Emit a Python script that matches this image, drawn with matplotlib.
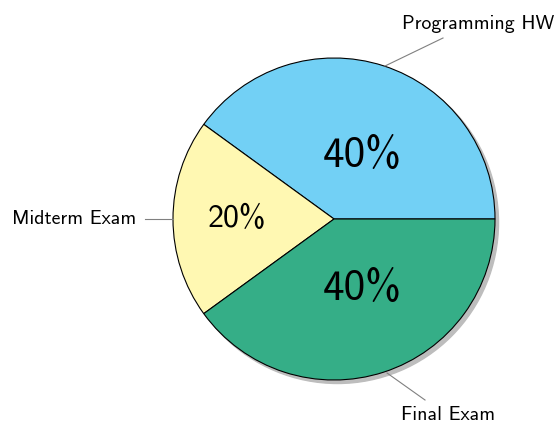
import matplotlib
matplotlib.use('Agg')
import matplotlib.pyplot as plt
from matplotlib.patches import Circle

labels = ['Programming HW', 'Midterm Exam', 'Final Exam']
values = [40, 20, 40]
colors = ['#72D0F5', '#FFF8B2', '#35AE87']

plt.rcParams['font.family'] = ['cmss10', 'DejaVu Sans']

fig = plt.figure(figsize=(5.58, 4.23), dpi=100)
ax = fig.add_axes([0, 0, 1, 1])

cx, cy, r = 334, 204, 161

# shadow
ax.add_patch(Circle((cx + 3.5, cy - 3.5), r, color='#BDBDBD', zorder=0))

wedges, _ = ax.pie(values, colors=colors, startangle=0, counterclock=True,
                   center=(cx, cy), radius=r,
                   wedgeprops=dict(edgecolor='black', linewidth=0.8))
for w in wedges:
    w.set_zorder(1)

# percentage labels (size scaled with value)
pct_pos = [(cx + 28, cy + 63), (cx - 97, cy + 1), (cx + 28, cy - 70)]
for v, (x, y) in zip(values, pct_pos):
    ax.text(x, y, f'{v}%', ha='center', va='center',
            fontsize=15 + v * 0.4, zorder=3)

# outside labels with leader lines
leaders = [((385, 357), (443, 385)), ((173, 204), (145, 204)), ((387, 50), (425, 23))]
text_pos = [(402, 399, 'left'), (136, 204, 'right'), (401, 8, 'left')]
for lab, (p0, p1), (tx, ty, ha) in zip(labels, leaders, text_pos):
    ax.plot([p0[0], p1[0]], [p0[1], p1[1]], color='#808080', lw=0.8, zorder=2)
    ax.text(tx, ty, lab, ha=ha, va='center', fontsize=14.3, zorder=3)

ax.set_xlim(0, 558)
ax.set_ylim(0, 423)
ax.axis('off')

fig.savefig('out.png', dpi=100)
